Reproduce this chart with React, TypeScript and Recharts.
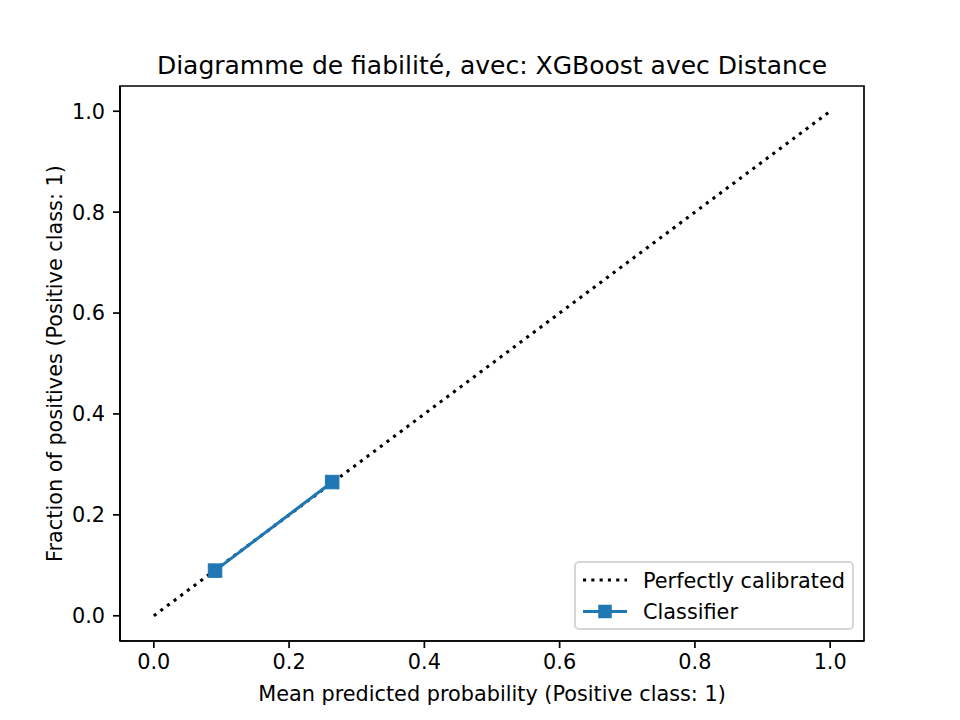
import React from "react"
import { ComposedChart, Line, XAxis, YAxis, ReferenceArea } from "recharts"

// perfectly calibrated diagonal
const refX = [0, 1]
const refY = [0, 1]

// classifier calibration points
const meanPredicted = [0.0905, 0.2637]
const fractionPositives = [0.0895, 0.265]

const axisTicks = [0, 0.2, 0.4, 0.6, 0.8, 1.0]

const title = "Diagramme de fiabilité, avec: XGBoost avec Distance"
const xLabel = "Mean predicted probability (Positive class: 1)"
const yLabel = "Fraction of positives (Positive class: 1)"
const legendLabels = ["Perfectly calibrated", "Classifier"]

const BLUE = "#1f77b4"
const FONT = "DejaVu Sans, sans-serif"

const refData = refX.map((x, i) => ({ x, y: refY[i] }))
const clfData = meanPredicted.map((x, i) => ({ x, y: fractionPositives[i] }))

function SquareDot(props: any) {
  const { cx, cy } = props
  if (cx == null || cy == null) return null
  const s = 13.5
  return <rect x={cx - s / 2} y={cy - s / 2} width={s} height={s} fill={BLUE} stroke={BLUE} strokeWidth={1} />
}

const tickStyle = { fill: "#000", fontSize: 20.8, fontFamily: FONT }
const fmt = (v: number) => v.toFixed(1)

export default function App() {
  return (
    <div style={{ position: "absolute", left: 0, top: 0, width: 960, height: 720, background: "#fff" }}>
      <ComposedChart width={960} height={720} margin={{ top: 86, right: 96, bottom: 19, left: 60 }}>
        <XAxis
          type="number"
          dataKey="x"
          domain={[-0.05, 1.05]}
          ticks={axisTicks}
          tickFormatter={fmt}
          allowDataOverflow
          height={60}
          tickSize={7}
          tickMargin={6}
          tick={tickStyle}
          axisLine={{ stroke: "#000", strokeWidth: 1.7 }}
          tickLine={{ stroke: "#000", strokeWidth: 1.7 }}
        />
        <YAxis
          type="number"
          dataKey="y"
          domain={[-0.05, 1.05]}
          ticks={axisTicks}
          tickFormatter={fmt}
          allowDataOverflow
          width={60}
          tickSize={7}
          tickMargin={8}
          tick={tickStyle}
          axisLine={{ stroke: "#000", strokeWidth: 1.7 }}
          tickLine={{ stroke: "#000", strokeWidth: 1.7 }}
        />
        <Line
          data={refData}
          dataKey="y"
          type="linear"
          stroke="#000"
          strokeWidth={3.1}
          strokeDasharray="3.1 5.2"
          dot={false}
          activeDot={false}
          isAnimationActive={false}
        />
        <Line
          data={clfData}
          dataKey="y"
          type="linear"
          stroke={BLUE}
          strokeWidth={3.1}
          dot={<SquareDot />}
          activeDot={false}
          isAnimationActive={false}
        />
        <ReferenceArea
          x1={-0.05}
          x2={1.05}
          y1={-0.05}
          y2={1.05}
          fill="none"
          fillOpacity={0}
          stroke="#000"
          strokeWidth={1.7}
          ifOverflow="visible"
        />
      </ComposedChart>
      <svg
        width={960}
        height={720}
        style={{ position: "absolute", left: 0, top: 0, pointerEvents: "none" }}
        fontFamily={FONT}
      >
        <text x={492} y={73.5} textAnchor="middle" fontSize={25} fill="#000">
          {title}
        </text>
        <text x={492} y={701} textAnchor="middle" fontSize={20.8} fill="#000">
          {xLabel}
        </text>
        <text x={61.5} y={363.5} textAnchor="middle" fontSize={20.8} fill="#000" transform="rotate(-90 61.5 363.5)">
          {yLabel}
        </text>
        <g>
          <rect x={575} y={562} width={278} height={67} rx={4} fill="#fff" fillOpacity={0.8} stroke="#d6d6d6" strokeWidth={2} />
          <line x1={583} y1={580} x2={627} y2={580} stroke="#000" strokeWidth={3.1} strokeDasharray="3.1 5.2" />
          <text x={643} y={588} fontSize={20.8} fill="#000">
            {legendLabels[0]}
          </text>
          <line x1={583} y1={611.5} x2={627} y2={611.5} stroke={BLUE} strokeWidth={3.1} />
          <rect x={605 - 6.75} y={611.5 - 6.75} width={13.5} height={13.5} fill={BLUE} />
          <text x={643} y={618.5} fontSize={20.8} fill="#000">
            {legendLabels[1]}
          </text>
        </g>
      </svg>
    </div>
  )
}
